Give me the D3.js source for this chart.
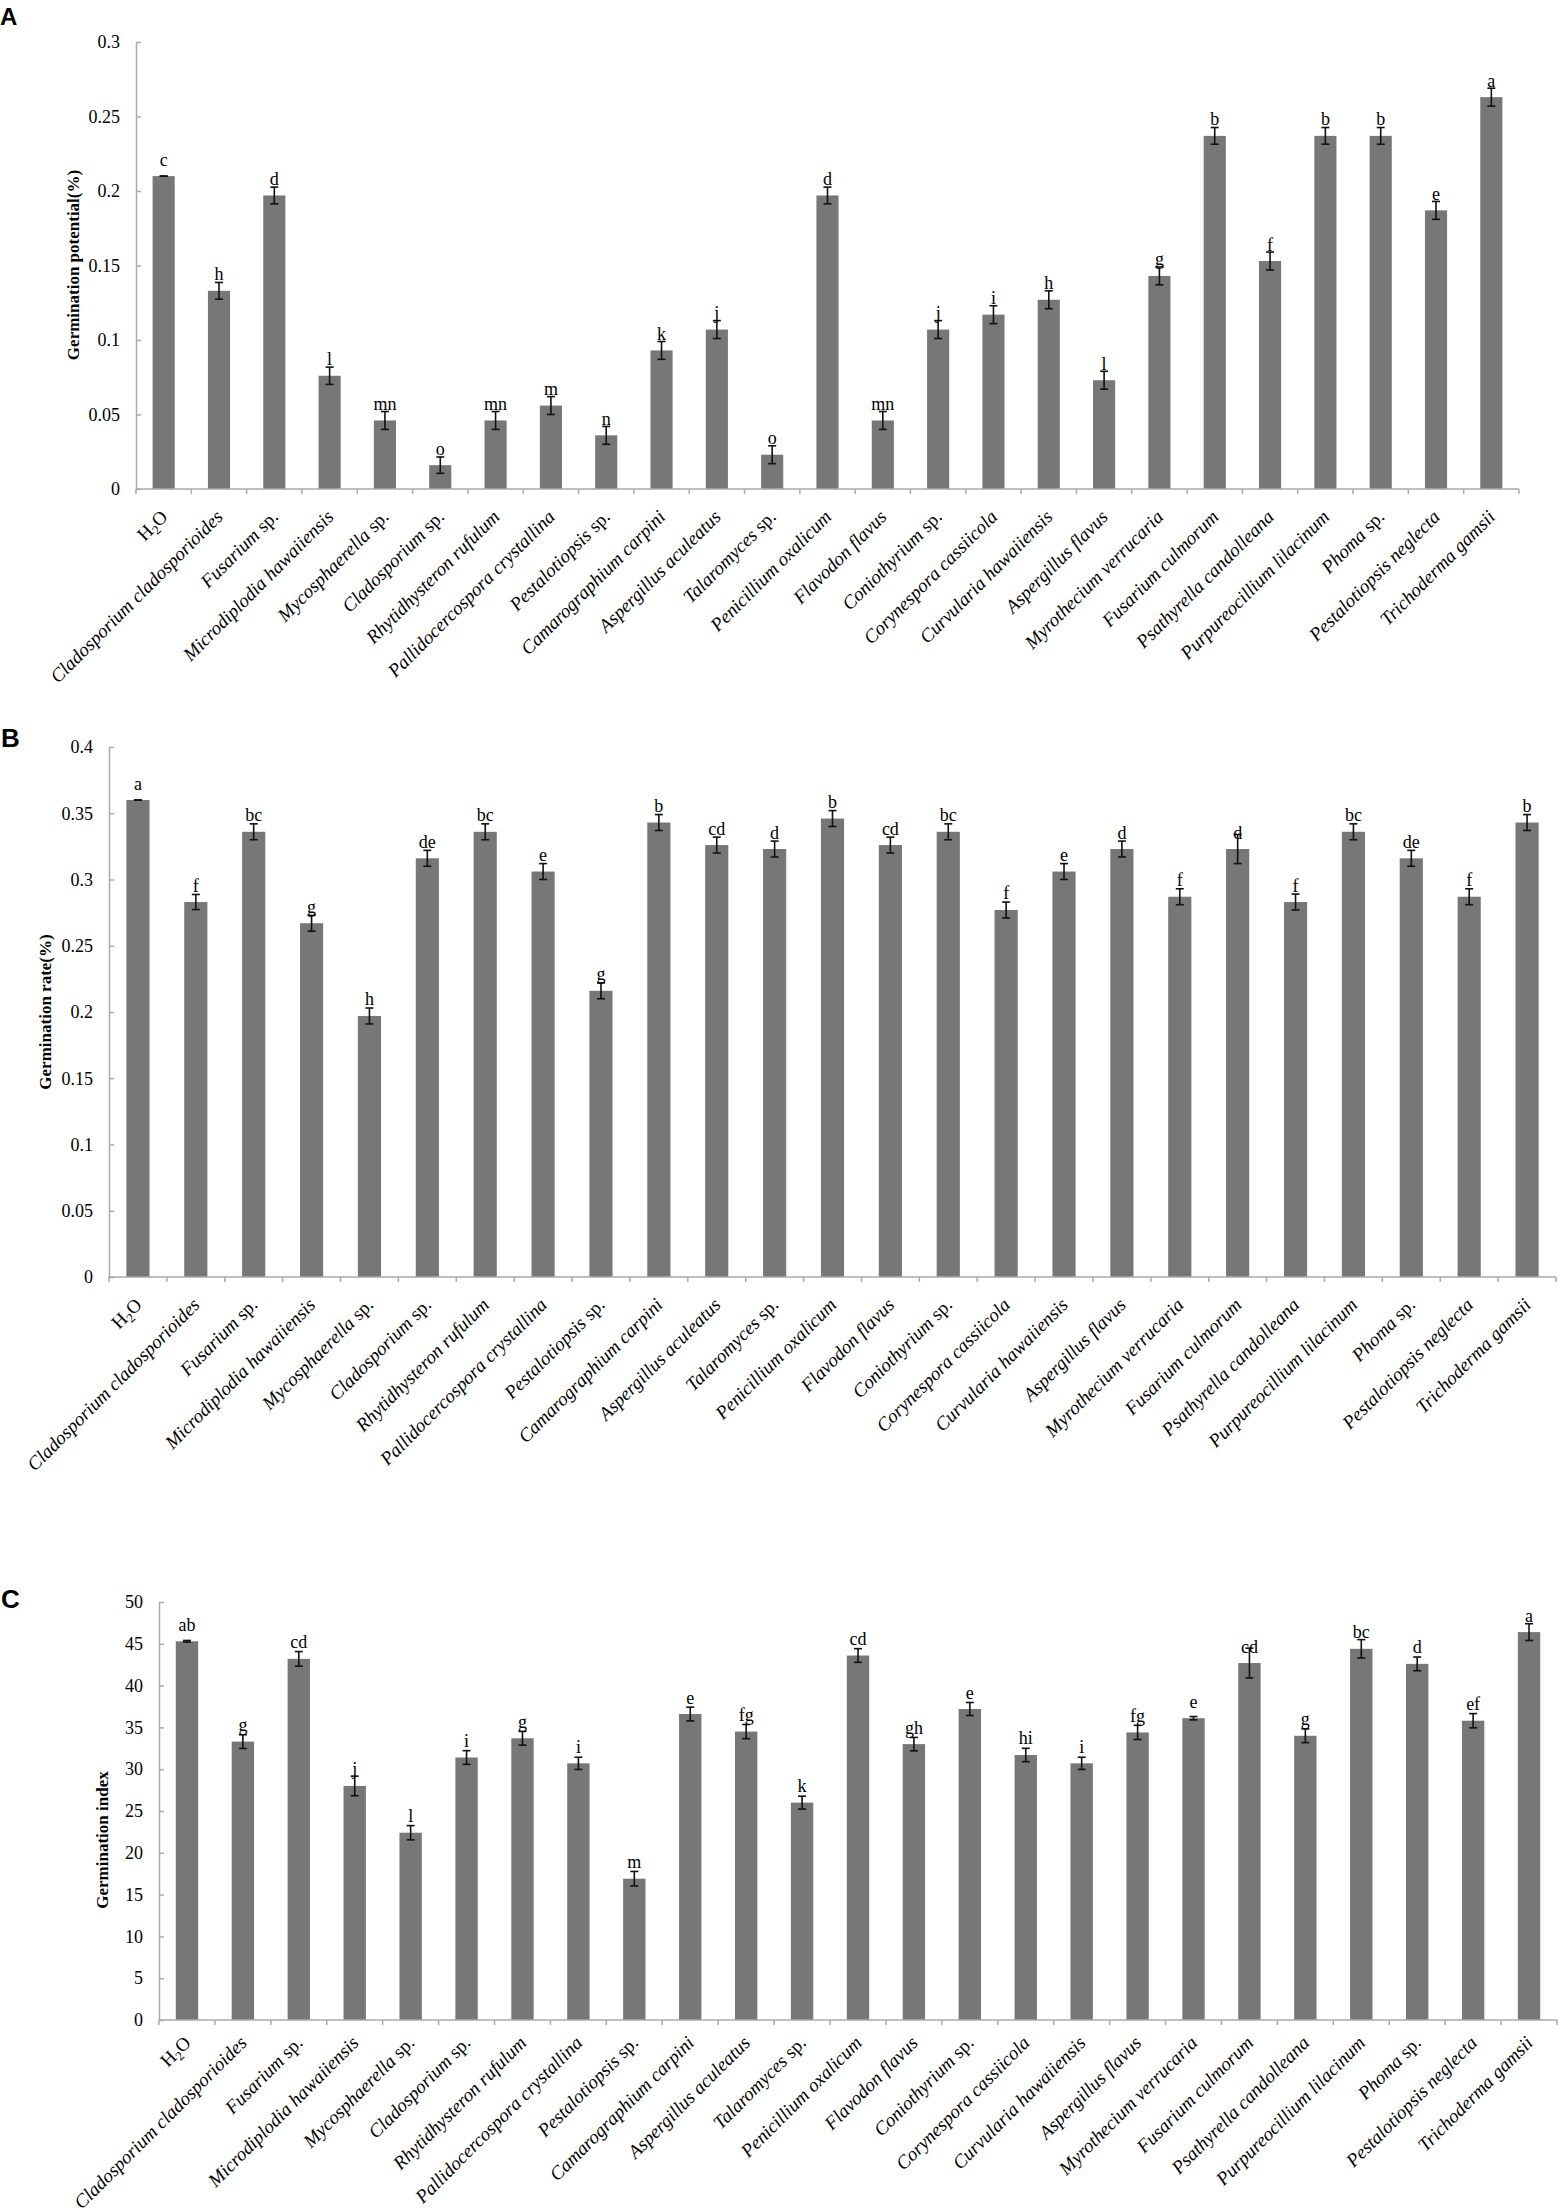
<!DOCTYPE html>
<html lang="en">
<head>
<meta charset="UTF-8">
<title>Seed germination with endophytic fungi</title>
<script src="https://cdn.jsdelivr.net/npm/d3@7"></script>
<style>
  body { margin: 0; background: #fff; }
  svg text { font-family: "Liberation Serif", "Times New Roman", serif; fill: #000; }
  .panel-letter { font-family: "Liberation Sans", Arial, sans-serif; font-weight: bold; }
  .axis-title { font-weight: bold; }
</style>
</head>
<body>
<div id="chart"></div>

<script type="text/javascript">

// treatments, in plotting order
var categories = ["H2O", "Cladosporium cladosporioides", "Fusarium sp.", "Microdiplodia hawaiiensis",
  "Mycosphaerella sp.", "Cladosporium sp.", "Rhytidhysteron rufulum", "Pallidocercospora crystallina",
  "Pestalotiopsis sp.", "Camarographium carpini", "Aspergillus aculeatus", "Talaromyces sp.",
  "Penicillium oxalicum", "Flavodon flavus", "Coniothyrium sp.", "Corynespora cassiicola",
  "Curvularia hawaiiensis", "Aspergillus flavus", "Myrothecium verrucaria", "Fusarium culmorum",
  "Psathyrella candolleana", "Purpureocillium lilacinum", "Phoma sp.", "Pestalotiopsis neglecta",
  "Trichoderma gamsii"];

// A - germination potential
var potential = [0.210, 0.133, 0.197, 0.076, 0.046, 0.016, 0.046, 0.056, 0.036, 0.093, 0.107, 0.023, 0.197,
  0.046, 0.107, 0.117, 0.127, 0.073, 0.143, 0.237, 0.153, 0.237, 0.237, 0.187, 0.263];
var potentialErr = [0, 0.0056, 0.0056, 0.0058, 0.006, 0.0055, 0.006, 0.006, 0.006, 0.006, 0.006, 0.006, 0.0056,
  0.006, 0.006, 0.006, 0.006, 0.006, 0.006, 0.0056, 0.006, 0.0056, 0.0056, 0.006, 0.006];
var potentialSig = ["c", "h", "d", "l", "mn", "o", "mn", "m", "n", "k", "j", "o", "d",
  "mn", "j", "i", "h", "l", "g", "b", "f", "b", "b", "e", "a"];
var potentialTicks = [0, 0.05, 0.1, 0.15, 0.2, 0.25, 0.3];

// B - germination rate
var rate = [0.360, 0.283, 0.336, 0.267, 0.197, 0.316, 0.336, 0.306, 0.216, 0.343, 0.326, 0.323, 0.346,
  0.326, 0.336, 0.277, 0.306, 0.323, 0.287, 0.323, 0.283, 0.336, 0.316, 0.287, 0.343];
var rateErr = [0, 0.0057, 0.006, 0.006, 0.006, 0.006, 0.006, 0.006, 0.006, 0.006, 0.006, 0.006, 0.006,
  0.006, 0.006, 0.006, 0.006, 0.006, 0.006, 0.011, 0.006, 0.006, 0.006, 0.006, 0.006];
var rateSig = ["a", "f", "bc", "g", "h", "de", "bc", "e", "g", "b", "cd", "d", "b",
  "cd", "bc", "f", "e", "d", "f", "d", "f", "bc", "de", "f", "b"];
var rateTicks = [0, 0.05, 0.1, 0.15, 0.2, 0.25, 0.3, 0.35, 0.4];

// C - germination index
var germIndex = [45.3, 33.3, 43.2, 28.0, 22.4, 31.4, 33.7, 30.7, 16.9, 36.6, 34.5, 26.0, 43.6,
  33.0, 37.2, 31.7, 30.7, 34.4, 36.1, 42.7, 34.0, 44.4, 42.6, 35.8, 46.4];
var germIndexErr = [0.1, 0.82, 0.87, 1.17, 0.85, 0.82, 0.82, 0.73, 0.87, 0.82, 0.85, 0.77, 0.82,
  0.8, 0.78, 0.8, 0.73, 0.85, 0.2, 1.78, 0.82, 1.1, 0.82, 0.85, 1.0];
var germIndexSig = ["ab", "g", "cd", "j", "l", "i", "g", "i", "m", "e", "fg", "k", "cd",
  "gh", "e", "hi", "i", "fg", "e", "cd", "g", "bc", "d", "ef", "a"];
var germIndexTicks = [0, 5, 10, 15, 20, 25, 30, 35, 40, 45, 50];


var svg = d3.select("#chart").append("svg")
  .attr("width", 1560)
  .attr("height", 2212)

svg.append("rect").attr("width", 1560).attr("height", 2212).attr("fill", "#fff")


function drawPanel(p, values, errs, sigs, ticks) {
  var g = svg.append("g")

  var x = d3.scaleBand().domain(categories).range([p.left, p.right]).padding(0)
  var y = d3.scaleLinear().domain([0, ticks[ticks.length - 1]]).range([p.bottom, p.top])
  var bw = x.bandwidth()

  var rows = categories.map(function(c, i) {
    return {name: c, v: values[i], e: errs[i], sig: sigs[i]}
  })

  //panel letter
  g.append("text")
    .attr("class", "panel-letter")
    .attr("x", p.letterX).attr("y", p.letterY)
    .style("font-size", p.letterSize + "px")
    .text(p.letter)

  //Y axis
  var yAxis = d3.axisLeft(y)
    .tickValues(ticks)
    .tickSizeInner(-5)
    .tickSizeOuter(0)
    .tickPadding(16)
    .tickFormat(function(d) { return String(+d.toFixed(2)) })

  var ya = g.append("g")
    .attr("transform", "translate(" + p.left + ",0)")
    .call(yAxis)
  ya.select(".domain").attr("stroke", "#aaa").attr("stroke-width", 1.5)
  ya.selectAll(".tick line").attr("stroke", "#aaa").attr("stroke-width", 1.5)
  ya.selectAll(".tick text")
    .style("font-family", '"Liberation Serif", "Times New Roman", serif')
    .style("font-size", "18px")
    .attr("fill", "#000")

  g.append("text")
    .attr("class", "axis-title")
    .attr("transform", "translate(" + p.titleX + "," + p.titleY + ") rotate(-90)")
    .attr("text-anchor", "middle")
    .attr("dy", "0.35em")
    .style("font-size", "17px")
    .text(p.title)

  //Bars
  g.selectAll("rect.bar")
    .data(rows)
    .enter()
    .append("rect")
    .attr("class", "bar")
    .attr("fill", "#777")
    .attr("x", function(d) { return x(d.name) + bw * 0.3 })
    .attr("width", bw * 0.4)
    .attr("y", function(d) { return y(d.v) })
    .attr("height", function(d) { return y(0) - y(d.v) })

  //X axis line + ticks at category boundaries
  g.append("line")
    .attr("x1", p.left).attr("x2", p.right)
    .attr("y1", y(0)).attr("y2", y(0))
    .attr("stroke", "#aaa").attr("stroke-width", 1.5)

  g.selectAll("line.xtick")
    .data(d3.range(categories.length + 1))
    .enter()
    .append("line")
    .attr("class", "xtick")
    .attr("x1", function(i) { return p.left + i * x.step() })
    .attr("x2", function(i) { return p.left + i * x.step() })
    .attr("y1", y(0)).attr("y2", y(0) + 5)
    .attr("stroke", "#aaa").attr("stroke-width", 1.5)

  //Error bars
  var err = g.selectAll("g.err")
    .data(rows)
    .enter()
    .append("g")
    .attr("class", "err")
    .attr("stroke", "#111")
    .attr("stroke-width", 1.6)
  err.append("line")
    .attr("x1", function(d) { return x(d.name) + bw / 2 })
    .attr("x2", function(d) { return x(d.name) + bw / 2 })
    .attr("y1", function(d) { return y(d.v - d.e) })
    .attr("y2", function(d) { return y(d.v + d.e) })
  err.append("line")
    .attr("x1", function(d) { return x(d.name) + bw / 2 - 4 })
    .attr("x2", function(d) { return x(d.name) + bw / 2 + 4 })
    .attr("y1", function(d) { return y(d.v + d.e) })
    .attr("y2", function(d) { return y(d.v + d.e) })
  err.append("line")
    .attr("x1", function(d) { return x(d.name) + bw / 2 - 4 })
    .attr("x2", function(d) { return x(d.name) + bw / 2 + 4 })
    .attr("y1", function(d) { return y(d.v - d.e) })
    .attr("y2", function(d) { return y(d.v - d.e) })

  //Significance letters
  g.selectAll("text.sig")
    .data(rows)
    .enter()
    .append("text")
    .attr("class", "sig")
    .attr("text-anchor", "middle")
    .style("font-size", "18px")
    .attr("x", function(d) { return x(d.name) + bw / 2 })
    .attr("y", function(d) { return y(d.v) - 10.5 })
    .text(function(d) { return d.sig })

  //Category labels, italic genus/species, upright "sp." and H2O
  var labels = g.selectAll("text.cat")
    .data(rows)
    .enter()
    .append("text")
    .attr("class", "cat")
    .attr("text-anchor", "end")
    .style("font-size", "19px")
    .attr("transform", function(d) {
      return "translate(" + (x(d.name) + bw / 2 + 5) + "," + (y(0) + p.labelDy) + ") rotate(-45)"
    })

  labels.each(function(d) {
    var t = d3.select(this)
    if (d.name === "H2O") {
      t.append("tspan").text("H")
      t.append("tspan").attr("dy", 4).style("font-size", "13px").text("2")
      t.append("tspan").attr("dy", -4).text("O")
    } else if (/ sp\.$/.test(d.name)) {
      t.append("tspan").style("font-style", "italic").text(d.name.replace(/ sp\.$/, ""))
      t.append("tspan").text(" sp.")
    } else {
      t.append("tspan").style("font-style", "italic").text(d.name)
    }
  })
}


drawPanel({letter: "A", letterX: 0, letterY: 25, letterSize: 24,
  left: 136, right: 1519, top: 42, bottom: 489, labelDy: 29,
  title: "Germination potential(%)", titleX: 73, titleY: 265},
  potential, potentialErr, potentialSig, potentialTicks)

drawPanel({letter: "B", letterX: 1, letterY: 747, letterSize: 26,
  left: 109, right: 1556, top: 747, bottom: 1277, labelDy: 29,
  title: "Germination rate(%)", titleX: 45, titleY: 1012},
  rate, rateErr, rateSig, rateTicks)

drawPanel({letter: "C", letterX: 1, letterY: 1608, letterSize: 26,
  left: 159, right: 1557, top: 1602, bottom: 2020, labelDy: 24,
  title: "Germination index", titleX: 102, titleY: 1840},
  germIndex, germIndexErr, germIndexSig, germIndexTicks)

</script>
</body>
</html>
